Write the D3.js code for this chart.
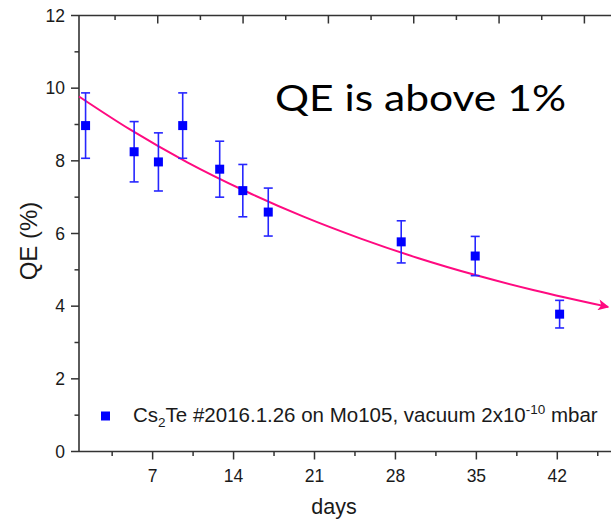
<!DOCTYPE html>
<html>
<head>
<meta charset="utf-8">
<script src="https://cdn.jsdelivr.net/npm/d3@7"></script>
<style>
  body { margin: 0; background: #fff; }
  text { font-family: "Liberation Sans", Arial, sans-serif; fill: #1a1a1a; }
</style>
</head>
<body>
<div id="chart"></div>
<script>
// measured points (days, QE %, error)
const days = [1.2, 5.4, 7.5, 9.6, 12.8, 14.8, 17.0, 28.5, 34.9, 42.2];
const qe = [8.97, 8.25, 7.97, 8.97, 7.77, 7.18, 6.59, 5.77, 5.38, 3.78];
const qeErr = [0.9, 0.83, 0.8, 0.9, 0.77, 0.72, 0.66, 0.58, 0.54, 0.38];

// fitted decay curve
const fitDays = [0.63, 5, 10, 15, 20, 25, 30, 35, 40, 46.4];
const fitQE = [9.77, 8.87, 7.96, 7.17, 6.47, 5.86, 5.32, 4.85, 4.44, 3.98];

const xTicks = [7, 14, 21, 28, 35, 42];
const xMinor = [3.5, 10.5, 17.5, 24.5, 31.5, 38.5, 45.5];
const yTicks = [0, 2, 4, 6, 8, 10, 12];
const yMinor = [1, 3, 5, 7, 9, 11];

const noteText = "QE is above 1%";

const W = 611, H = 520;
const plotL = 79, plotR = 611, plotT = 15.5, plotB = 451.5;

const svg = d3.select("#chart").append("svg")
    .attr("width", W)
    .attr("height", H);

const x = d3.scaleLinear().domain([0, 42]).range([71.7, 557.3]);
const xTop = d3.scaleLinear().domain([0, 42]).range([72.4, 584.4]);
const y = d3.scaleLinear().domain([0, 12]).range([plotB, plotT]);

const axisColor = "#333";

// axis lines
svg.append("line").attr("x1", plotL).attr("x2", plotR).attr("y1", plotB).attr("y2", plotB)
    .attr("stroke", axisColor).attr("stroke-width", 1.6);
svg.append("line").attr("x1", plotL).attr("x2", plotR).attr("y1", plotT).attr("y2", plotT)
    .attr("stroke", axisColor).attr("stroke-width", 1.6);
svg.append("line").attr("x1", plotL).attr("x2", plotL).attr("y1", plotT).attr("y2", plotB)
    .attr("stroke", axisColor).attr("stroke-width", 1.6);

// bottom ticks
svg.append("g").selectAll("line").data(xTicks).enter().append("line")
    .attr("x1", d => x(d)).attr("x2", d => x(d))
    .attr("y1", plotB).attr("y2", plotB + 8)
    .attr("stroke", axisColor).attr("stroke-width", 1.5);
svg.append("g").selectAll("line").data(xMinor.filter(d => x(d) < plotR)).enter().append("line")
    .attr("x1", d => x(d)).attr("x2", d => x(d))
    .attr("y1", plotB).attr("y2", plotB + 4.5)
    .attr("stroke", axisColor).attr("stroke-width", 1.5);
svg.append("g").selectAll("text").data(xTicks).enter().append("text")
    .attr("x", d => x(d)).attr("y", 482)
    .attr("text-anchor", "middle")
    .style("font-size", "17.5px")
    .text(d => d);

// top ticks (inward)
svg.append("g").selectAll("line").data(xTicks).enter().append("line")
    .attr("x1", d => xTop(d)).attr("x2", d => xTop(d))
    .attr("y1", plotT).attr("y2", plotT + 8)
    .attr("stroke", axisColor).attr("stroke-width", 1.5);
svg.append("g").selectAll("line").data(xMinor.filter(d => xTop(d) < plotR)).enter().append("line")
    .attr("x1", d => xTop(d)).attr("x2", d => xTop(d))
    .attr("y1", plotT).attr("y2", plotT + 4.5)
    .attr("stroke", axisColor).attr("stroke-width", 1.5);

// left ticks
svg.append("g").selectAll("line").data(yTicks).enter().append("line")
    .attr("x1", plotL - 8).attr("x2", plotL)
    .attr("y1", d => y(d)).attr("y2", d => y(d))
    .attr("stroke", axisColor).attr("stroke-width", 1.5);
svg.append("g").selectAll("line").data(yMinor).enter().append("line")
    .attr("x1", plotL - 4.5).attr("x2", plotL)
    .attr("y1", d => y(d)).attr("y2", d => y(d))
    .attr("stroke", axisColor).attr("stroke-width", 1.5);
svg.append("g").selectAll("text").data(yTicks).enter().append("text")
    .attr("x", 65).attr("y", d => y(d))
    .attr("dy", "0.36em")
    .attr("text-anchor", "end")
    .style("font-size", "17.5px")
    .text(d => d);

// axis titles
svg.append("text")
    .attr("x", 334).attr("y", 514)
    .attr("text-anchor", "middle")
    .style("font-size", "21.5px")
    .text("days");
svg.append("text")
    .attr("transform", "translate(37,241) rotate(-90)")
    .attr("text-anchor", "middle")
    .style("font-size", "24px")
    .text("QE (%)");

// fit curve with arrow
const fitColor = "#ff0a80";
svg.append("defs").append("marker")
    .attr("id", "arrow")
    .attr("viewBox", "0 0 10 10")
    .attr("refX", 9).attr("refY", 5)
    .attr("markerWidth", 8).attr("markerHeight", 5.5)
    .attr("markerUnits", "strokeWidth")
    .attr("orient", "auto")
    .append("path")
    .attr("d", "M0,0 L10,5 L0,10 L2.5,5 Z")
    .attr("fill", fitColor);

const fitLine = d3.line()
    .x(d => x(d[0]))
    .y(d => y(d[1]))
    .curve(d3.curveMonotoneX);

svg.append("path")
    .datum(fitDays.map((d, i) => [d, fitQE[i]]))
    .attr("d", fitLine)
    .attr("fill", "none")
    .attr("stroke", fitColor)
    .attr("stroke-width", 2)
    .attr("marker-end", "url(#arrow)");

// error bars
const pts = days.map((d, i) => ({ day: d, v: qe[i], e: qeErr[i] }));
const errColor = "#2626ff";
const eb = svg.append("g");
eb.selectAll(".stem").data(pts).enter().append("line")
    .attr("x1", d => x(d.day)).attr("x2", d => x(d.day))
    .attr("y1", d => y(d.v + d.e)).attr("y2", d => y(d.v - d.e))
    .attr("stroke", errColor).attr("stroke-width", 1.6);
eb.selectAll(".capTop").data(pts).enter().append("line")
    .attr("x1", d => x(d.day) - 4.5).attr("x2", d => x(d.day) + 4.5)
    .attr("y1", d => y(d.v + d.e)).attr("y2", d => y(d.v + d.e))
    .attr("stroke", errColor).attr("stroke-width", 1.6);
eb.selectAll(".capBot").data(pts).enter().append("line")
    .attr("x1", d => x(d.day) - 4.5).attr("x2", d => x(d.day) + 4.5)
    .attr("y1", d => y(d.v - d.e)).attr("y2", d => y(d.v - d.e))
    .attr("stroke", errColor).attr("stroke-width", 1.6);

// markers
svg.append("g").selectAll("rect").data(pts).enter().append("rect")
    .attr("x", d => x(d.day) - 4.5).attr("y", d => y(d.v) - 4.5)
    .attr("width", 9).attr("height", 9)
    .attr("fill", "#0000ff");

// note
svg.append("text")
    .attr("x", 275).attr("y", 111)
    .attr("textLength", 291)
    .attr("lengthAdjust", "spacingAndGlyphs")
    .style("font-family", "Lato, 'Open Sans', sans-serif")
    .style("font-size", "36px")
    .style("fill", "#000")
    .text(noteText);

// legend
svg.append("rect")
    .attr("x", 101).attr("y", 411.5)
    .attr("width", 9).attr("height", 9)
    .attr("fill", "#0000ff");
const leg = svg.append("text")
    .attr("x", 133).attr("y", 422)
    .style("font-size", "20.5px");
leg.append("tspan").text("Cs");
leg.append("tspan").attr("dy", 5).style("font-size", "13.5px").text("2");
leg.append("tspan").attr("dy", -5).text("Te #2016.1.26 on Mo105, vacuum 2x10");
leg.append("tspan").attr("dy", -8).style("font-size", "13.5px").text("-10");
leg.append("tspan").attr("dy", 8).text(" mbar");
</script>
</body>
</html>
